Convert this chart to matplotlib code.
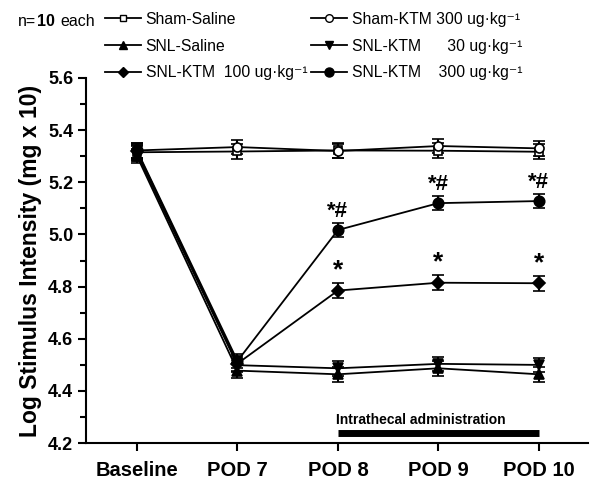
import matplotlib
matplotlib.use("Agg")
import matplotlib.pyplot as plt
from matplotlib.lines import Line2D
from matplotlib.ticker import MultipleLocator

plt.rcParams['font.family'] = ['Liberation Sans', 'DejaVu Sans']

# data
days = ['Baseline', 'POD 7', 'POD 8', 'POD 9', 'POD 10']
sham_saline = [5.315, 5.318, 5.322, 5.321, 5.317]
sham_ktm300 = [5.322, 5.335, 5.320, 5.339, 5.330]
snl_saline = [5.300, 4.478, 4.464, 4.487, 4.464]
snl_ktm30 = [5.310, 4.499, 4.487, 4.504, 4.500]
snl_ktm100 = [5.318, 4.505, 4.785, 4.815, 4.813]
snl_ktm300 = [5.322, 4.515, 5.017, 5.120, 5.128]
err = 0.028

labels = ['Sham-Saline', 'SNL-Saline', 'SNL-KTM  100 ug·kg⁻¹',
          'Sham-KTM 300 ug·kg⁻¹', 'SNL-KTM      30 ug·kg⁻¹',
          'SNL-KTM    300 ug·kg⁻¹']
series = [sham_saline, snl_saline, snl_ktm100, sham_ktm300, snl_ktm30, snl_ktm300]
markers = ['s', '^', 'D', 'o', 'v', 'o']
faces = ['white', 'black', 'black', 'white', 'black', 'black']
msizes = [6, 7, 6, 6.5, 7, 7.5]

# days with significance marks
sig_100 = [2, 3, 4]
sig_300 = [2, 3, 4]

fig = plt.figure(figsize=(6, 4.87), dpi=100)
ax = fig.add_axes([0.143, 0.090, 0.837, 0.750])

x = list(range(len(days)))
handles = []
for ys, m, fc, ms, lab in zip(series, markers, faces, msizes, labels):
    ax.errorbar(x, ys, yerr=err, color='black', marker=m, mfc=fc, mec='black',
                ms=ms, mew=1.2, lw=1.3, elinewidth=1.5, capsize=4, capthick=1.5)
    handles.append(Line2D([], [], color='black', marker=m, mfc=fc, mec='black',
                          ms=ms - 1, mew=1.0, lw=1.3, label=lab))

for i in sig_100:
    ax.text(x[i], snl_ktm100[i] + err + 0.003, '*', ha='center', va='bottom',
            fontsize=19, fontweight='bold')
for i in sig_300:
    ax.text(x[i], snl_ktm300[i] + err + 0.003, '*#', ha='center', va='bottom',
            fontsize=16, fontweight='bold')

# intrathecal administration bar
ax.plot([x[2], x[4]], [4.238, 4.238], color='black', lw=5, solid_capstyle='butt')
ax.text(x[2] - 0.02, 4.262, 'Intrathecal administration', ha='left', va='bottom',
        fontsize=10, fontweight='bold')

ax.set_xlim(-0.51, 4.49)
ax.set_ylim(4.2, 5.6)
ax.set_xticks(x)
ax.set_xticklabels(days, fontsize=14.5, fontweight='bold')
ax.yaxis.set_minor_locator(MultipleLocator(0.1))
ax.set_yticks([4.2, 4.4, 4.6, 4.8, 5.0, 5.2, 5.4, 5.6])
ax.set_yticklabels(['4.2', '4.4', '4.6', '4.8', '5.0', '5.2', '5.4', '5.6'],
                   fontsize=13, fontweight='bold')
ax.tick_params(axis='both', which='major', length=6, width=1.5, direction='out')
ax.tick_params(axis='y', which='minor', length=4, width=1.5, direction='out')
ax.tick_params(axis='x', pad=7)
ax.tick_params(axis='y', pad=3)
for side in ['top', 'right']:
    ax.spines[side].set_visible(False)
for side in ['left', 'bottom']:
    ax.spines[side].set_linewidth(1.5)
ax.set_ylabel('Log Stimulus Intensity (mg x 10)', fontsize=16.5, fontweight='bold',
              labelpad=4)

fig.legend(handles=handles, loc='upper left', bbox_to_anchor=(0.155, 1.0),
           ncol=2, frameon=False, fontsize=11.3, handlelength=2.3,
           handletextpad=0.3, columnspacing=0.25, labelspacing=0.75,
           borderaxespad=0.35)
fig.text(0.03, 0.955, 'n=', fontsize=11.5, va='center', ha='left')
fig.text(0.061, 0.955, '10', fontsize=11.5, va='center', ha='left', fontweight='bold')
fig.text(0.1, 0.955, 'each', fontsize=11.5, va='center', ha='left')

fig.savefig('out.png', dpi=100)
